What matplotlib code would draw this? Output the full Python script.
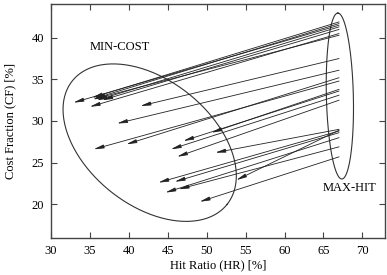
import numpy as np
import matplotlib.pyplot as plt

plt.rcParams['font.family'] = ['Liberation Serif', 'DejaVu Serif']
plt.rcParams['font.size'] = 9

# arrows go from the MAX-HIT operating point to the MIN-COST one
hr_from = [67.0, 67.0, 67.0, 67.0, 67.0, 67.0, 67.0, 67.0, 67.0, 67.0,
           67.0, 67.0, 67.0, 67.0, 67.0, 67.0, 67.0, 67.0, 67.0, 67.0,
           67.0, 67.0]
cf_from = [41.9, 41.7, 41.5, 41.3, 41.0, 40.5, 40.3, 37.5, 36.1, 35.2,
           34.8, 33.8, 33.6, 33.1, 32.5, 29.0, 28.9, 28.8, 28.6, 28.0,
           26.9, 25.7]
hr_to = [35.3, 35.6, 32.9, 35.9, 36.6, 35.0, 35.4, 41.5, 38.5, 39.7,
         35.5, 50.6, 47.0, 45.4, 46.2, 51.1, 53.8, 43.8, 45.9, 44.7,
         46.4, 49.1]
cf_to = [32.8, 32.7, 32.2, 32.5, 32.5, 31.7, 32.6, 31.8, 29.7, 27.2,
         26.6, 28.6, 27.6, 26.6, 25.7, 26.2, 22.9, 22.6, 22.7, 21.4,
         21.8, 20.3]

x_ticks = [30, 35, 40, 45, 50, 55, 60, 65, 70]
y_ticks = [20, 25, 30, 35, 40]

fig = plt.figure(figsize=(3.87, 2.75), dpi=100)
ax = fig.add_axes([0.131, 0.136, 0.864, 0.848])
ax.set_xlim(30, 72.9)
ax.set_ylim(16, 44)
ax.set_xticks(x_ticks)
ax.set_yticks(y_ticks)
ax.tick_params(direction='in', length=4, top=True, right=True, width=0.8,
               color='#444444', pad=5)
for s in ax.spines.values():
    s.set_color('#444444')
    s.set_linewidth(1.0)
ax.set_xlabel('Hit Ratio (HR) [%]', labelpad=2)
ax.set_ylabel('Cost Fraction (CF) [%]', labelpad=11)

for x0, y0, x1, y1 in zip(hr_from, cf_from, hr_to, cf_to):
    ax.annotate('', xy=(x1, y1), xytext=(x0, y0),
                arrowprops=dict(arrowstyle='-|>,head_length=0.6,head_width=0.11',
                                color='#222222', lw=0.6, shrinkA=0, shrinkB=0,
                                mutation_scale=10))


def draw_ellipse(cx, cy, a_px, b_px, angle):
    # ellipse drawn in screen space so it keeps its shape
    t = np.linspace(0, 2 * np.pi, 300)
    th = np.radians(angle)
    c = ax.transData.transform((cx, cy))
    px = c[0] + a_px * np.cos(t) * np.cos(th) - b_px * np.sin(t) * np.sin(th)
    py = c[1] + a_px * np.cos(t) * np.sin(th) + b_px * np.sin(t) * np.cos(th)
    pts = ax.transData.inverted().transform(np.column_stack([px, py]))
    ax.plot(pts[:, 0], pts[:, 1], color='#333333', lw=0.8)


draw_ellipse(42.7, 27.4, 99, 62.5, -38.6)
draw_ellipse(67.1, 33.0, 83, 13.5, 91.4)

ax.text(38.9, 38.9, 'MIN-COST', ha='center', va='center')
ax.text(68.4, 21.9, 'MAX-HIT', ha='center', va='center')

fig.savefig('out.png', dpi=100)
